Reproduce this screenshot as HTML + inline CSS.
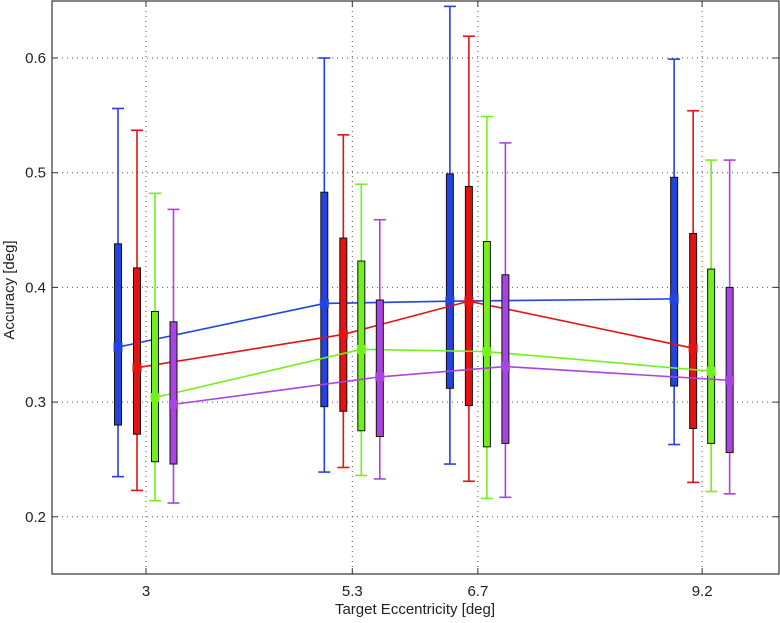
<!DOCTYPE html>
<html><head><meta charset="utf-8"><style>
body{margin:0;background:#fff;}
svg{display:block;font-family:"Liberation Sans",sans-serif;}
</style></head><body>
<svg id="chart" width="780" height="623">
<g id="grid"></g>
<g id="series"></g>
<g id="axes"></g>
<text x="415" y="614" font-size="15" text-anchor="middle" fill="#222">Target Eccentricity [deg]</text>
<text transform="translate(14,290) rotate(-90)" font-size="15" text-anchor="middle" fill="#222">Accuracy [deg]</text>
</svg>
<script>
const categories=[3,5.3,6.7,9.2];
const xTickLabels=["3","5.3","6.7","9.2"];
const yTicks=[0.2,0.3,0.4,0.5,0.6];
const seriesNames=["blue","red","green","purple"];
const colors=["#2342e0","#e31313","#72f01e","#a845e2"];
const means=[[0.348,0.386,0.388,0.390],[0.330,0.359,0.388,0.347],[0.304,0.346,0.344,0.327],[0.298,0.322,0.331,0.319]];
const whiskerHigh=[[0.556,0.600,0.645,0.599],[0.537,0.533,0.619,0.554],[0.482,0.490,0.549,0.511],[0.468,0.459,0.526,0.511]];
const whiskerLow=[[0.235,0.239,0.246,0.263],[0.223,0.243,0.231,0.230],[0.214,0.236,0.216,0.222],[0.212,0.233,0.217,0.220]];
const boxHigh=[[0.438,0.483,0.499,0.496],[0.417,0.443,0.488,0.447],[0.379,0.423,0.440,0.416],[0.370,0.389,0.411,0.400]];
const boxLow=[[0.280,0.296,0.312,0.314],[0.272,0.292,0.297,0.277],[0.248,0.275,0.261,0.264],[0.246,0.270,0.264,0.256]];

const L=52,R=779,T=1,B=574;
const xs=v=>146+(v-3)*89.7;
const ys=v=>58+(0.6-v)*1147;
const offs=[-28,-9,9,27.5];
const NS="http://www.w3.org/2000/svg";
function mk(parent,tag,attrs){const e=document.createElementNS(NS,tag);for(const k in attrs)e.setAttribute(k,attrs[k]);parent.appendChild(e);return e;}
const grid=document.getElementById('grid'),ser=document.getElementById('series'),ax=document.getElementById('axes');
yTicks.forEach(t=>{
  const l=mk(grid,'line',{x1:L,x2:R,y1:ys(t),y2:ys(t),stroke:'#555','stroke-width':1,'stroke-dasharray':'1,4'});
  
  
  mk(ax,'line',{x1:L,x2:L+6,y1:ys(t),y2:ys(t),stroke:'#333'});
  mk(ax,'line',{x1:R-6,x2:R,y1:ys(t),y2:ys(t),stroke:'#333'});
  const tx=mk(ax,'text',{x:46,y:ys(t)+5,'font-size':15,'text-anchor':'end',fill:'#222'});
  tx.textContent=t.toFixed(1);
  
  
});
categories.forEach((c,i)=>{
  const x=xs(c);
  const l=mk(grid,'line',{x1:x,x2:x,y1:T,y2:B,stroke:'#555','stroke-width':1,'stroke-dasharray':'1,4'});
  
  
  mk(ax,'line',{x1:x,x2:x,y1:B-6,y2:B,stroke:'#333'});
  mk(ax,'line',{x1:x,x2:x,y1:T,y2:T+6,stroke:'#333'});
  const tx=mk(ax,'text',{x:x,y:596,'font-size':15,'text-anchor':'middle',fill:'#222'});
  tx.textContent=xTickLabels[i];
  
  
});
const frame=mk(ax,'rect',{x:L,y:T,width:R-L,height:B-T,fill:'none',stroke:'#333','stroke-width':1.2});


seriesNames.forEach((n,s)=>{
  const g=mk(ser,'g',{});
  
  
  const col=colors[s];
  const pts=categories.map((c,i)=>(xs(c)+offs[s])+','+ys(means[s][i])).join(' ');
  const pl=mk(g,'polyline',{points:pts,fill:'none',stroke:col,'stroke-width':1.6});
  
  
  categories.forEach((c,i)=>{
    const x=xs(c)+offs[s];
    mk(g,'line',{x1:x,x2:x,y1:ys(whiskerHigh[s][i]),y2:ys(whiskerLow[s][i]),stroke:col,'stroke-width':1.6});
    mk(g,'line',{x1:x-6,x2:x+6,y1:ys(whiskerHigh[s][i]),y2:ys(whiskerHigh[s][i]),stroke:col,'stroke-width':1.6});
    mk(g,'line',{x1:x-6,x2:x+6,y1:ys(whiskerLow[s][i]),y2:ys(whiskerLow[s][i]),stroke:col,'stroke-width':1.6});
    const b=mk(g,'rect',{x:x-3.5,y:ys(boxHigh[s][i]),width:7,height:ys(boxLow[s][i])-ys(boxHigh[s][i]),fill:col,stroke:'#111','stroke-width':1});
    
    
  });
  categories.forEach((c,i)=>{
    const x=xs(c)+offs[s];
    const m=mk(g,'rect',{x:x-4.5,y:ys(means[s][i])-4.5,width:9,height:9,fill:col});
    
    
  });
});
</script>
</body></html>
